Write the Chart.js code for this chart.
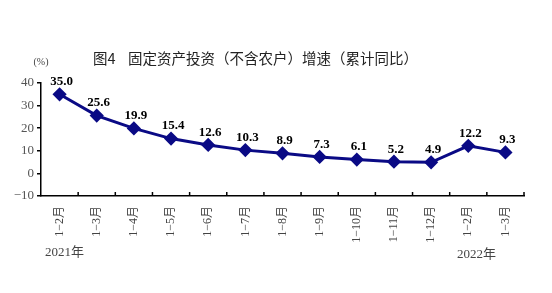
<!DOCTYPE html>
<html>
<head>
<meta charset="utf-8">
<script src="https://cdn.jsdelivr.net/npm/chart.js@4"></script>
<style>
  html, body { margin: 0; padding: 0; background: #fff; }
  #wrap { width: 552px; height: 293px; position: relative; }
</style>
</head>
<body>
<div id="wrap"><canvas id="fixedAssetChart"></canvas></div>
<script>
// ========== DATA ==========
const monthLabels = ['1−2月', '1−3月', '1−4月', '1−5月', '1−6月', '1−7月', '1−8月',
  '1−9月', '1−10月', '1−11月', '1−12月', '1−2月', '1−3月'];
const growthValues = [35.0, 25.6, 19.9, 15.4, 12.6, 10.3, 8.9, 7.3, 6.1, 5.2, 4.9, 12.2, 9.3];
const yTicks = [-10, 0, 10, 20, 30, 40];
const chartTitleNo = '图4';
const chartTitle = '固定资产投资（不含农户）增速（累计同比）';
const unitLabel = '(%)';
const yearLabels = ['2021年', '2022年'];

const serif = '"Liberation Serif", "Times New Roman", "Noto Sans CJK SC", serif';
const cjk = '"Noto Sans CJK SC", sans-serif';

// ========== EXTRA DRAWING ==========
const decorPlugin = {
  id: 'decor',
  afterDraw(chart) {
    const ctx = chart.ctx;
    const x = chart.scales.x;
    const area = chart.chartArea;
    ctx.save();

    // inward x ticks at category boundaries
    ctx.strokeStyle = '#000';
    ctx.lineWidth = 1.5;
    for (let i = 1; i <= monthLabels.length; i++) {
      const px = i < monthLabels.length
        ? (x.getPixelForValue(i - 1) + x.getPixelForValue(i)) / 2
        : area.right;
      ctx.beginPath();
      ctx.moveTo(px, area.bottom);
      ctx.lineTo(px, area.bottom - 4);
      ctx.stroke();
    }

    // value labels
    const meta = chart.getDatasetMeta(0);
    ctx.fillStyle = '#000';
    ctx.font = 'bold 13px ' + serif;
    ctx.textAlign = 'center';
    ctx.textBaseline = 'bottom';
    meta.data.forEach((pt, i) => {
      ctx.fillText(growthValues[i].toFixed(1), pt.x + 2, pt.y - 6);
    });

    // title
    ctx.fillStyle = '#222';
    ctx.font = '14.5px ' + cjk;
    ctx.textAlign = 'left';
    ctx.textBaseline = 'middle';
    ctx.fillText(chartTitleNo, 93, 58);
    ctx.fillText(chartTitle, 128, 58);

    // unit
    ctx.fillStyle = '#444';
    ctx.font = '10px ' + serif;
    ctx.textAlign = 'center';
    ctx.fillText(unitLabel, 41, 62);

    // year labels
    ctx.font = '13px ' + serif;
    ctx.textAlign = 'left';
    ctx.fillText(yearLabels[0], 45, 253);
    ctx.fillText(yearLabels[1], 457, 255);
    ctx.restore();
  }
};

// ========== CHART ==========
new Chart(document.getElementById('fixedAssetChart'), {
  type: 'line',
  data: {
    labels: monthLabels,
    datasets: [{
      data: growthValues,
      borderColor: '#0a0a85',
      backgroundColor: '#0a0a85',
      borderWidth: 3,
      tension: 0,
      pointStyle: 'rectRot',
      pointRadius: 5,
      pointHoverRadius: 5
    }]
  },
  options: {
    responsive: true,
    maintainAspectRatio: false,
    animation: false,
    layout: { padding: { top: 83, right: 28, left: 0, bottom: 0 } },
    plugins: {
      legend: { display: false },
      tooltip: { enabled: false }
    },
    scales: {
      x: {
        offset: true,
        grid: { display: true, drawOnChartArea: false, drawTicks: false, offset: true, color: 'rgba(0,0,0,0)' },
        border: { color: '#000', width: 1.5 },
        ticks: {
          autoSkip: false,
          minRotation: 90,
          maxRotation: 90,
          padding: 10,
          color: '#444',
          font: { size: 12, family: serif }
        },
        afterFit(scale) { scale.height = 97; }
      },
      y: {
        min: -10,
        max: 40,
        afterBuildTicks(scale) { scale.ticks = yTicks.map(v => ({ value: v })); },
        grid: { drawOnChartArea: false, drawTicks: true, tickLength: 4, color: '#000', lineWidth: 1.5 },
        border: { color: '#000', width: 1.5 },
        ticks: {
          padding: 3,
          color: '#555',
          font: { size: 13, family: serif },
          callback: v => (v < 0 ? '−' + Math.abs(v) : String(v))
        },
        afterFit(scale) { scale.width = 41; }
      }
    }
  },
  plugins: [decorPlugin]
});
</script>
</body>
</html>
